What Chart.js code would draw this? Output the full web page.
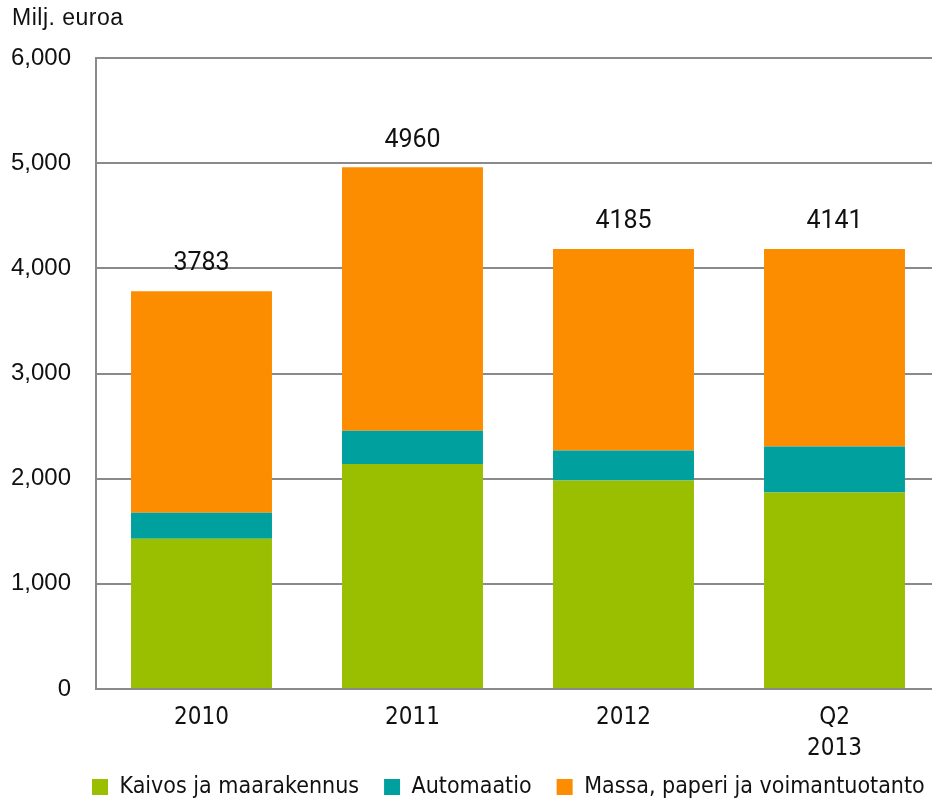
<!DOCTYPE html>
<html>
<head>
<meta charset="utf-8">
<script src="https://cdn.jsdelivr.net/npm/chart.js@4"></script>
<style>
  html, body { margin: 0; padding: 0; overflow: hidden; background: #fff; }
  canvas { display: block; }
</style>
</head>
<body>
<canvas id="chart" width="945" height="801"></canvas>
<script>
// data
const years = ['2010', '2011', '2012', ['Q2', '2013']];
const kaivos = [1429, 2139, 1983, 1869];
const automaatio = [247, 316, 285, 437];
const massa = [2107, 2505, 1917, 1877];
const totals = [3783, 4960, 4185, 4141];
const yTicks = [0, 1000, 2000, 3000, 4000, 5000, 6000];

const narrow = "'DejaVu Sans Condensed', 'Liberation Sans Narrow', sans-serif";
const gridGray = '#8a8a8a';

// "Milj. euroa", the totals above each bar, and moving the legend under the plot
const extraText = {
    id: 'extraText',
    afterLayout(chart) {
        const lg = chart.legend;
        const shift = 801 - 14 - (lg.top + lg.options.labels.padding + 11.5);
        lg.left = 67;
        lg.right = 990;
        lg.top += shift;
        lg.bottom += shift;
    },
    afterDatasetsDraw(chart) {
        const ctx = chart.ctx;
        ctx.save();
        ctx.fillStyle = '#111';
        ctx.font = "23px 'Liberation Sans', Arial, sans-serif";
        ctx.letterSpacing = '0.5px';
        ctx.textAlign = 'left';
        ctx.textBaseline = 'middle';
        ctx.fillText('Milj. euroa', 12, 19);

        const meta = chart.getDatasetMeta(2);
        ctx.font = "25px Roboto, sans-serif";
        ctx.letterSpacing = '0px';
        ctx.textAlign = 'center';
        meta.data.forEach((bar, i) => {
            ctx.fillText(totals[i], bar.x, bar.y - 27);
        });
        ctx.restore();
    }
};

new Chart(document.getElementById('chart'), {
    type: 'bar',
    data: {
        labels: years,
        datasets: [
            { label: 'Kaivos ja maarakennus', data: kaivos, backgroundColor: '#99bf00' },
            { label: 'Automaatio', data: automaatio, backgroundColor: '#00a09f' },
            { label: 'Massa, paperi ja voimantuotanto', data: massa, backgroundColor: '#fd8d00' }
        ]
    },
    options: {
        responsive: false,
        animation: false,
        layout: { padding: { left: 0, right: 5, top: 58, bottom: -18 } },
        datasets: { bar: { categoryPercentage: 1, barPercentage: 0.668 } },
        plugins: {
            title: { display: false },
            tooltip: { enabled: false },
            legend: {
                position: 'bottom',
                align: 'start',
                labels: {
                    boxWidth: 16,
                    boxHeight: 16,
                    padding: 25,
                    color: '#111',
                    font: { family: narrow, size: 23 }
                }
            }
        },
        scales: {
            x: {
                stacked: true,
                grid: { display: false, drawTicks: false },
                border: { color: gridGray, width: 2 },
                ticks: { color: '#111', padding: 13, font: { family: narrow, size: 24, lineHeight: 1.3 } },
                afterFit(scale) { scale.height = 72; }
            },
            y: {
                stacked: true,
                min: 0,
                max: 6000,
                afterBuildTicks(scale) { scale.ticks = yTicks.map(v => ({ value: v })); },
                grid: { color: gridGray, lineWidth: 2, drawTicks: false },
                border: { color: gridGray, width: 2 },
                ticks: {
                    color: '#111',
                    padding: 25,
                    font: { family: "'Liberation Sans', Arial, sans-serif", size: 24 },
                    callback: v => v.toLocaleString('en-US')
                },
                afterFit(scale) { scale.width = 96; }
            }
        }
    },
    plugins: [extraText]
});
</script>
</body>
</html>
